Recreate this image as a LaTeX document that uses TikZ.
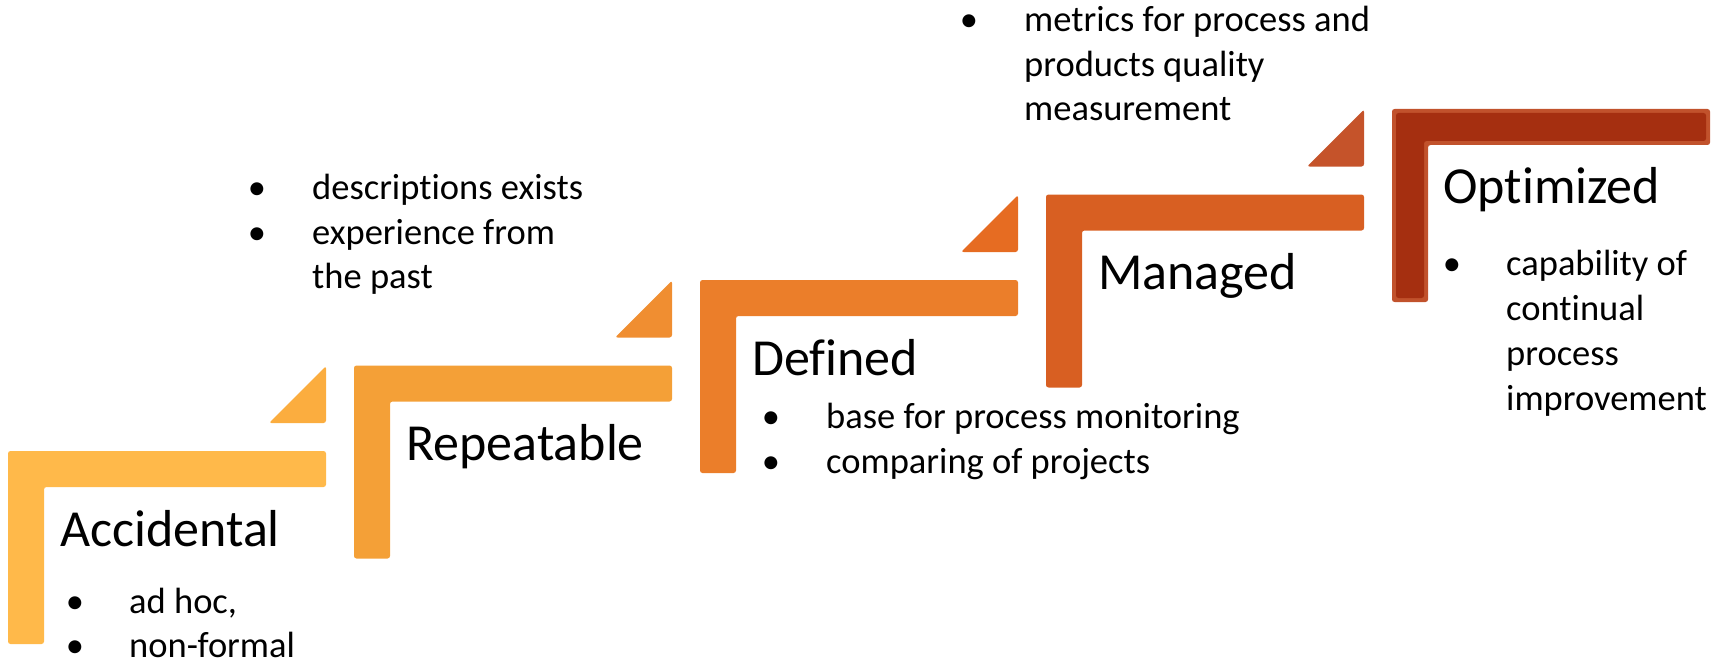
\documentclass[tikz,border=0pt]{standalone}
\usepackage{fontspec}
\setmainfont{Carlito}[Ligatures={NoCommon}]
\definecolor{cA}{HTML}{FFB94A}
\definecolor{tA}{HTML}{FBAD3F}
\definecolor{cB}{HTML}{F4A037}
\definecolor{tB}{HTML}{F08E31}
\definecolor{cC}{HTML}{EB7E2A}
\definecolor{tC}{HTML}{E66C22}
\definecolor{cD}{HTML}{D85F22}
\definecolor{tD}{HTML}{C5532A}
\definecolor{cE}{HTML}{A52F10}
\definecolor{eE}{HTML}{C1522C}
\begin{document}
\begin{tikzpicture}[x=1pt,y=-1pt,
  title/.style={anchor=base west, inner sep=0pt, font=\fontsize{52}{62}\selectfont},
  txt/.style={anchor=base west, inner sep=0pt, font=\fontsize{36.5}{44.5}\selectfont},
  bul/.style={anchor=base, inner sep=0pt, font=\fontsize{36.5}{44.5}\selectfont},
  stepshape/.style={rounded corners=2.5pt}]
\useasboundingbox (0,0) rectangle (1729,666);
% steps 0..3
\foreach \i/\lc/\tc in {0/cA/tA,1/cB/tB,2/cC/tC,3/cD/tD}{
  \begin{scope}[shift={(346*\i,-85.5*\i)}]
    \fill[stepshape,\lc] (8,451) -- (326,451) -- (326,487) -- (44,487) -- (44,644) -- (8,644) -- cycle;
    \fill[stepshape,\tc] (269,423) -- (326,423) -- (326,366) -- cycle;
  \end{scope}
}
% step 4 (Optimized)
\fill[stepshape,eE] (1392,109) -- (1710,109) -- (1710,145) -- (1428,145) -- (1428,302) -- (1392,302) -- cycle;
\fill[stepshape,cE] (1396,113) -- (1706,113) -- (1706,141) -- (1424,141) -- (1424,298) -- (1396,298) -- cycle;
% titles
\node[title] (tacc) at (60,546) {Accidental};
\node[title] (trep) at (406,460) {Repeatable};
\node[title] (tdef) at (752,375) {Defined};
\node[title] (tman) at (1098,289) {Managed};
\node[title] (topt) at (1443,203) {Optimized};
% Accidental bullets
\node[bul] (ba1) at (75,613) {•};
\node[txt] (xa1) at (129,613) {ad hoc,};
\node[bul] (ba2) at (75,657) {•};
\node[txt] (xa2) at (129,657) {non-formal};
% Repeatable bullets
\node[bul] (br1) at (257,199) {•};
\node[txt] (xr1) at (312,199) {descriptions exists};
\node[bul] (br2) at (257,244) {•};
\node[txt] (xr2) at (312,244) {experience from};
\node[txt] (xr3) at (312,288) {the past};
% Defined bullets
\node[bul] (bd1) at (771,428) {•};
\node[txt] (xd1) at (826,428) {base for process monitoring};
\node[bul] (bd2) at (771,473) {•};
\node[txt] (xd2) at (826,473) {comparing of projects};
% Managed bullets
\node[bul] (bm1) at (969,32) {•};
\node[txt] (xm1) at (1024,32) {metrics for process and};
\node[txt] (xm2) at (1024,76.5) {products quality};
\node[txt] (xm3) at (1024,121) {measurement};
% Optimized bullets
\node[bul] (bo1) at (1452,275) {•};
\node[txt] (xo1) at (1506,275) {capability of};
\node[txt] (xo2) at (1506,320) {continual};
\node[txt] (xo3) at (1506,365) {process};
\node[txt] (xo4) at (1506,410) {improvement};
\end{tikzpicture}
\end{document}
